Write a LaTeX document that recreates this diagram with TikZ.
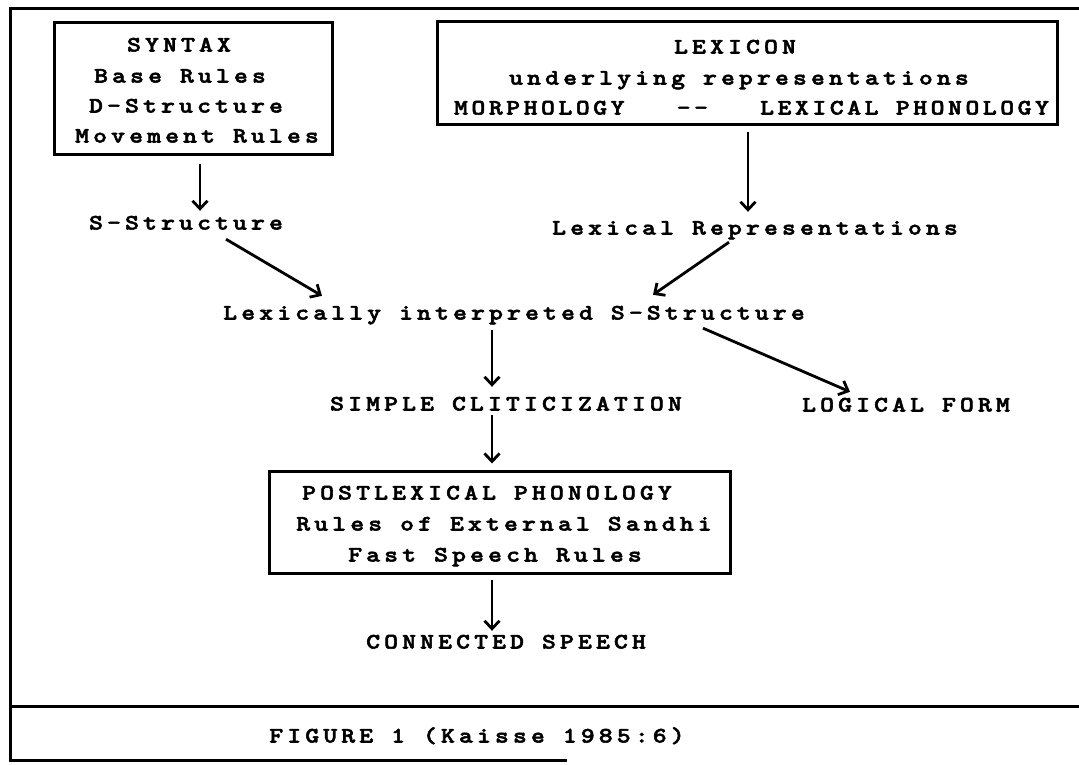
\documentclass[tikz,border=0pt]{standalone}
\usepackage{fontspec}
\usetikzlibrary{arrows.meta}
\newfontfamily\twfam{lmmonolt10-bold.otf}[LetterSpace=18.8, FakeBold=2.5, FakeStretch=1.2]
\newfontfamily\twnfam{lmmonolt10-bold.otf}[LetterSpace=16.1, FakeBold=2.5, FakeStretch=1.2]
\newcommand{\tw}{\twfam\fontsize{22}{26}\selectfont}
\newcommand{\twn}{\twnfam\fontsize{22}{26}\selectfont}
\tikzset{
  txt/.style={inner sep=0pt, anchor=center, text height=13pt, text depth=0pt, font=\tw},
  boxnode/.style={draw, line width=3pt, inner sep=0pt},
  arr/.style={line width=2.8pt, -{Straight Barb[length=8pt,width=15pt]}},
  frame/.style={line width=3pt, line cap=rect},
}
\begin{document}
\begin{tikzpicture}[x=1pt,y=-1pt]
\useasboundingbox (0,0) rectangle (1079,765);
% outer frame
\draw[frame] (1079,9) -- (10,9) -- (10,760) -- (565,760);
\draw[frame] (10,706) -- (1079,706);
% SYNTAX box
\node[boxnode, minimum width=278pt, minimum height=132pt] (syntax) at (193,89) {};
\node[txt] (syn1) at (179,45) {SYNTAX};
\node[txt] (syn2) at (180,76) {Base Rules};
\node[txt] (syn3) at (186,106) {D-Structure};
\node[txt] (syn4) at (197,136) {Movement Rules};
% LEXICON box
\node[boxnode, minimum width=620pt, minimum height=103pt] (lexicon) at (747,73.5) {};
\node[txt] (lex1) at (735,47) {LEXICON};
\node[txt] (lex2) at (739,78) {underlying representations};
\node[txt, font=\twn] (lex3) at (751.5,108) {MORPHOLOGY\ \ \ --\ \ \ LEXICAL PHONOLOGY};
% middle texts
\node[txt] (sstruct) at (186,223) {S-Structure};
\node[txt] (lexrep) at (755,228) {Lexical Representations};
\node[txt] (lisst) at (514,313) {Lexically interpreted S-Structure};
\node[txt] (simple) at (506,404) {SIMPLE CLITICIZATION};
\node[txt] (logical) at (906,405) {LOGICAL FORM};
% POSTLEXICAL box
\node[boxnode, minimum width=461pt, minimum height=102pt] (post) at (499.5,522) {};
\node[txt] (pl1) at (487,493) {POSTLEXICAL PHONOLOGY};
\node[txt] (pl2) at (504,524) {Rules of External Sandhi};
\node[txt] (pl3) at (495,555) {Fast Speech Rules};
\node[txt] (connected) at (506,642) {CONNECTED SPEECH};
\node[txt] (figure) at (477,736) {FIGURE 1 (Kaisse 1985:6)};
% connectors
\draw[arr] ([shift={(7,8)}]syntax.south) -- ([shift={(14,-5.5)}]sstruct.north);
\draw[arr] ([shift={(40,9.5)}]sstruct.south) -- ([shift={(-192,-10.5)}]lisst.north);
\draw[arr] ([shift={(1,6)}]lexicon.south) -- ([shift={(-7,-9.5)}]lexrep.north);
\draw[arr] ([shift={(-26,7.5)}]lexrep.south) -- ([shift={(139,-11.5)}]lisst.north);
\draw[arr] ([shift={(189,8.5)}]lisst.south) -- ([shift={(-56,-6.5)}]logical.north);
\draw[arr] ([shift={(-22,10.5)}]lisst.south) -- ([shift={(-14,-10.5)}]simple.north);
\draw[arr] ([shift={(-14,4.5)}]simple.south) -- ([shift={(-7.5,-6)}]post.north);
\draw[arr] ([shift={(-7.5,5)}]post.south) -- ([shift={(-14,-4.5)}]connected.north);
\end{tikzpicture}
\end{document}
